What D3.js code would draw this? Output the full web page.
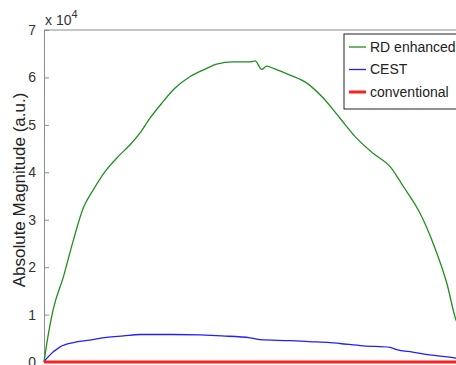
<!DOCTYPE html>
<html>
    <head>
        <script src="https://cdnjs.cloudflare.com/ajax/libs/d3/7.8.5/d3.min.js"></script>
        <title>Absolute Magnitude</title>
        <style>
            html, body {
                margin: 0;
                background: white;
            }
            svg {
                display: block;
                font-family: "Liberation Sans", Arial, sans-serif;
            }
        </style>
    </head>
    <body>
        <svg width="456" height="365"></svg>

        <script>
            // sample position (0..100 across the axis) and magnitude in units of 1e4
            var rdX = [0, 0.6, 2.2, 4.7, 7.1, 9.5, 11.9, 14.7, 17.9, 20.8, 23.2, 25.6, 28.4, 31.6, 35.3, 39.3, 41.7, 45.7, 49.8, 51.0, 52.6, 53.8, 55.4, 59.4, 63.5, 67.5, 71.5, 75.5, 79.5, 83.6, 86.8, 90.8, 94.0, 97.3, 99.5, 100];
            var rdY = [0, 0.35, 1.10, 1.80, 2.57, 3.25, 3.63, 4.01, 4.33, 4.58, 4.83, 5.14, 5.45, 5.77, 6.02, 6.19, 6.28, 6.33, 6.33, 6.35, 6.17, 6.24, 6.19, 6.05, 5.88, 5.56, 5.14, 4.72, 4.40, 4.12, 3.70, 3.14, 2.50, 1.66, 0.89, 0.78];

            var cestX = [0, 0.7, 3.9, 7.1, 11.1, 15.1, 19.2, 23.2, 27.2, 31.2, 37.7, 43.0, 49.8, 52.2, 59.4, 64.0, 69.1, 71.5, 77.1, 83.6, 85.2, 89.0, 93.2, 99.5, 100];
            var cestY = [0, 0.08, 0.32, 0.41, 0.46, 0.52, 0.55, 0.58, 0.58, 0.58, 0.57, 0.55, 0.51, 0.47, 0.45, 0.43, 0.41, 0.39, 0.34, 0.31, 0.26, 0.21, 0.15, 0.08, 0.07];

            var convX = [0, 100];
            var convY = [0, 0];

            var seriesNames = ["RD enhanced", "CEST", "conventional"];
            var yTicks = [0, 1, 2, 3, 4, 5, 6, 7];

            var colors = ["#1f8f1f", "#2020ff", "#ff1f1f"];
            var widths = [1.3, 1.3, 3];

            var svg = d3.select("svg");

            var x = d3.scaleLinear().domain([0, 100]).range([44, 458]);
            var y = d3.scaleLinear().domain([0, 7]).range([362, 30]);

            // top border
            svg.append("line")
                .attr("x1", x(0)).attr("x2", x(100))
                .attr("y1", y(7)).attr("y2", y(7))
                .attr("stroke", "#8c8c8c").attr("stroke-width", 1);

            var yAxis = d3.axisLeft(y)
                .tickValues(yTicks)
                .tickFormat(d3.format("d"))
                .tickSizeInner(-5)
                .tickSizeOuter(0)
                .tickPadding(8);

            var ga = svg.append("g")
                .attr("transform", "translate(" + x(0) + ",0)")
                .call(yAxis);
            ga.select(".domain").attr("stroke", "#8c8c8c");
            ga.selectAll(".tick line").attr("stroke", "#8c8c8c");
            ga.selectAll(".tick text")
                .attr("fill", "#333")
                .style("font-size", "14px");

            // bottom axis line
            svg.append("line")
                .attr("x1", x(0)).attr("x2", x(100))
                .attr("y1", y(0)).attr("y2", y(0))
                .attr("stroke", "#8c8c8c");

            // exponent label
            var expo = svg.append("text")
                .attr("x", 45).attr("y", 25)
                .attr("fill", "#333")
                .style("font-size", "14px")
                .text("x 10");
            expo.append("tspan")
                .attr("dy", -7)
                .style("font-size", "11px")
                .text("4");

            svg.append("text")
                .attr("transform", "translate(19,190) rotate(-90)")
                .attr("text-anchor", "middle")
                .attr("dy", "0.35em")
                .attr("fill", "#222")
                .style("font-size", "17px")
                .text("Absolute Magnitude (a.u.)");

            var line = d3.line()
                .curve(d3.curveMonotoneX)
                .x(function(d){ return x(d[0]); })
                .y(function(d){ return y(d[1]); });

            var data = [
                d3.zip(rdX, rdY),
                d3.zip(cestX, cestY),
                d3.zip(convX, convY)
            ];

            svg.selectAll(".series")
                .data(data)
                .enter()
                .append("path")
                .attr("class", "series")
                .attr("d", line)
                .attr("fill", "none")
                .attr("stroke", function(d, i){ return colors[i]; })
                .attr("stroke-width", function(d, i){ return widths[i]; });

            // legend
            var legend = svg.append("g").attr("transform", "translate(344,34)");
            legend.append("rect")
                .attr("x", 0).attr("y", 0)
                .attr("width", 130).attr("height", 75)
                .attr("fill", "white")
                .attr("stroke", "#222");

            var item = legend.selectAll(".item")
                .data(seriesNames)
                .enter()
                .append("g")
                .attr("class", "item")
                .attr("transform", function(d, i){ return "translate(0," + (13 + i * 22.5) + ")"; });

            item.append("line")
                .attr("x1", 5).attr("x2", 22)
                .attr("stroke", function(d, i){ return colors[i]; })
                .attr("stroke-width", function(d, i){ return widths[i]; });

            item.append("text")
                .attr("x", 26)
                .attr("dy", "0.35em")
                .attr("fill", "#222")
                .style("font-size", "14px")
                .text(function(d){ return d; });
        </script>
    </body>
</html>
